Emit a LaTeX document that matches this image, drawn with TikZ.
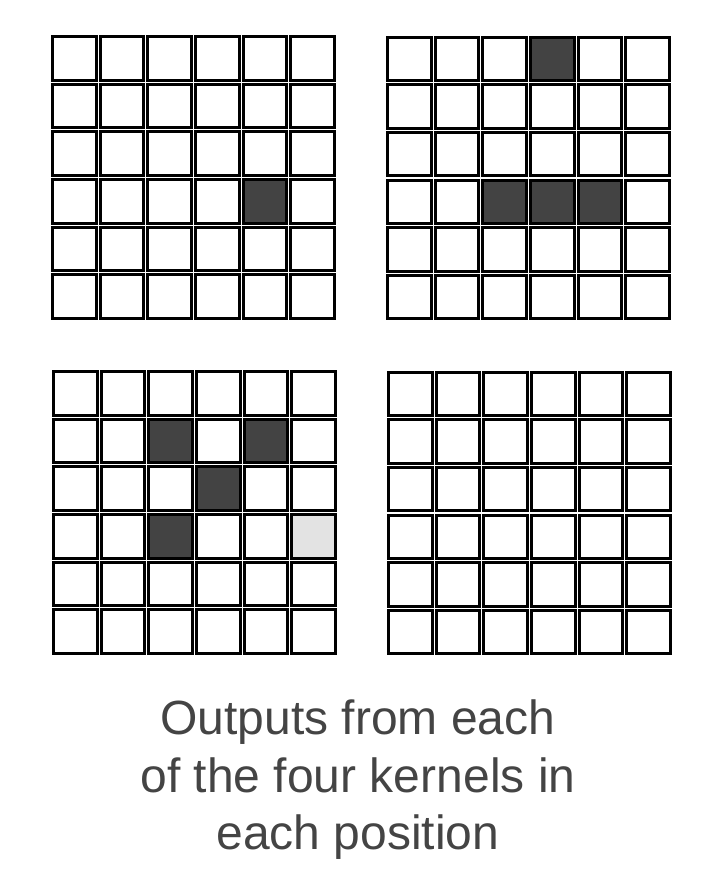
\documentclass[tikz,border=0pt]{standalone}
\usepackage{fontspec}
\setmainfont{Liberation Sans}
\definecolor{darkcell}{HTML}{434343}
\definecolor{lightcell}{HTML}{E3E3E3}
\definecolor{captiongray}{HTML}{444444}

\begin{document}
\begin{tikzpicture}[x=1pt,y=-1pt]

	\tikzstyle{cell}=[draw=black,line width=3pt,fill=white,minimum size=43.5pt,inner sep=0pt]
	\tikzstyle{on}=[fill=darkcell]
	\tikzstyle{half}=[fill=lightcell]

	% lit cells of each map
	\tikzset{tl-3-4/.style=on,
		tr-0-3/.style=on, tr-3-2/.style=on, tr-3-3/.style=on, tr-3-4/.style=on,
		bl-1-2/.style=on, bl-1-4/.style=on, bl-2-3/.style=on, bl-3-2/.style=on,
		bl-3-5/.style=half}

	\useasboundingbox (0,0) rectangle (708,884);

	\def\pitch{47.6}

	% the four maps: name/centre x/centre y
	\foreach \g/\gx/\gy in {tl/193.5/177.5, tr/528.5/178, bl/194.5/512.5, br/529.5/513}{
		\foreach \r in {0,...,5}{
			\foreach \c in {0,...,5}{
				\node[cell,\g-\r-\c/.try] (\g-\r-\c) at ({\gx+(\c-2.5)*\pitch},{\gy+(\r-2.5)*\pitch}) {};
			}
		}
	}

	\node[text=captiongray,font=\fontsize{48}{57.5}\selectfont,align=center] (caption) at (358,780)
		{Outputs from each\\of the four kernels in\\each position};
\end{tikzpicture}
\end{document}
